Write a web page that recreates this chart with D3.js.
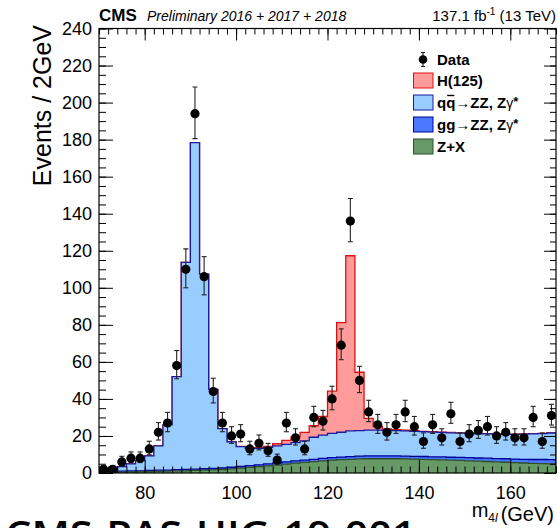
<!DOCTYPE html>
<html>
<head>
<meta charset="utf-8">
<script src="https://cdn.jsdelivr.net/npm/d3@7"></script>
<style>
  body { margin: 0; background: #fff; }
  svg { display: block; }
</style>
</head>
<body>
<svg id="chart" width="558" height="528"></svg>
<script>
// Four-lepton invariant mass, 2 GeV bins from 70 to 170 GeV (lower bin edges)
const binLow = d3.range(70, 170, 2);

// Observed events per bin
const dataCounts = [
  2, 2, 6, 8, 8, 13, 22, 27, 58, 110,
  194, 106, 44, 27, 20, 21, 13, 16, 12, 7,
  27, 19, 13, 30, 28, 40, 69, 136, 50, 33,
  26, 22, 26, 33, 25, 17, 26, 19, 32, 17,
  21, 23, 25, 20, 22, 19, 19, 30, 17, 31
];

// Expected yields per bin for each process (stacked bottom to top)
const zxYield = [
  0.3, 0.4, 0.5, 0.6, 0.7, 0.8, 0.9, 1.0, 1.1, 1.2,
  1.4, 1.5, 1.7, 1.9, 2.2, 2.6, 3.0, 3.4, 3.8, 4.3,
  4.8, 5.3, 5.7, 6.1, 6.5, 6.9, 7.2, 7.4, 7.6, 7.7,
  7.7, 7.7, 7.7, 7.6, 7.5, 7.4, 7.2, 7.1, 6.9, 6.8,
  6.6, 6.4, 6.2, 6.0, 5.8, 5.6, 5.4, 5.2, 5.1, 4.9
];
const ggZZYield = [
  0.4, 0.4, 0.5, 0.5, 0.5, 0.6, 0.6, 0.6, 0.7, 0.7,
  0.7, 0.8, 0.8, 0.8, 0.9, 0.9, 1.0, 1.0, 1.1, 1.1,
  1.2, 1.2, 1.3, 1.3, 1.4, 1.4, 1.4, 1.4, 1.5, 1.5,
  1.5, 1.5, 1.5, 1.5, 1.5, 1.5, 1.5, 1.6, 1.6, 1.6,
  1.7, 1.7, 1.8, 1.8, 1.9, 1.9, 2.0, 2.1, 2.2, 2.3
];
const qqZZYield = [
  0.6, 0.8, 2.4, 3.8, 5.5, 7.8, 13.1, 24.4, 50.2, 111.8,
  176.3, 105.1, 42.7, 21.3, 13.7, 10.7, 9.3, 8.9, 8.9, 9.2,
  9.5, 9.9, 10.3, 11.9, 12.6, 13.1, 13.4, 13.9, 13.8, 14.0,
  14.0, 13.8, 13.7, 13.6, 13.5, 13.4, 13.4, 13.2, 13.2, 13.1,
  13.1, 13.1, 13.1, 13.2, 13.2, 13.4, 13.6, 13.8, 14.0, 14.4
];
const higgsYield = [
  0, 0, 0, 0, 0, 0, 0, 0, 0, 0,
  0, 0, 0, 0, 0.1, 0.2, 0.3, 0.4, 0.6, 1.2,
  2.1, 3.0, 4.6, 6.2, 10.0, 22.8, 59.2, 94.6, 31.5, 6.3,
  1.9, 0.8, 0.5, 0.4, 0.3, 0.2, 0.2, 0.2, 0.2, 0.2,
  0.2, 0.2, 0.2, 0.1, 0.1, 0.1, 0.1, 0.1, 0.1, 0.1
];

const xTicks = [80, 100, 120, 140, 160];
const yTicks = [0, 20, 40, 60, 80, 100, 120, 140, 160, 180, 200, 220, 240];

const processes = [
  { key: "zx", label: "Z+X",  fill: "#669966", stroke: "#2f4f2f" },
  { key: "gg", label: "gg→ZZ, Zγ*", fill: "#4b78ff", stroke: "#000099" },
  { key: "qq", label: "qq̄→ZZ, Zγ*", fill: "#99ccff", stroke: "#1a1a9c" },
  { key: "h",  label: "H(125)", fill: "#ff9b9b", stroke: "#dd1111" }
];

const font = "'Liberation Sans', Arial, Helvetica, sans-serif";
const svg = d3.select("#chart");
svg.append("rect").attr("width", 558).attr("height", 528).attr("fill", "#fff");

const plot = { l: 99, r: 556, t: 28.5, b: 473 };
const x = d3.scaleLinear().domain([70, 170]).range([plot.l, plot.r]);
const y = d3.scaleLinear().domain([0, 240]).range([plot.b, plot.t]);

svg.append("defs").append("clipPath").attr("id", "frameClip")
  .append("rect").attr("x", plot.l).attr("y", plot.t)
  .attr("width", plot.r - plot.l).attr("height", plot.b - plot.t);

// ---- stacked histograms ----
const rows = binLow.map((m, i) => ({
  m, zx: zxYield[i], gg: ggZZYield[i], qq: qqZZYield[i], h: higgsYield[i]
}));
const stacked = d3.stack().keys(processes.map(p => p.key))(rows);

const hist = svg.append("g").attr("clip-path", "url(#frameClip)");
const area = d3.area().curve(d3.curveStepAfter)
  .x(d => x(d.m)).y0(y(0)).y1(d => y(d.v));
const outline = d3.line().curve(d3.curveStepAfter)
  .x(d => x(d.m)).y(d => y(d.v));

// cumulative histograms drawn from the top of the stack downwards
for (let k = processes.length - 1; k >= 0; k--) {
  const p = processes[k];
  const layer = stacked[k];
  const pts = layer.map((d, i) => ({ m: binLow[i], v: d[1] }));
  const last = pts[pts.length - 1].v;
  const filled = pts.concat([{ m: 170, v: last }]);
  hist.append("path").attr("d", area(filled)).attr("fill", p.fill);
  const edge = [{ m: 70, v: 0 }].concat(pts, [{ m: 170, v: last }, { m: 170, v: 0 }]);
  hist.append("path").attr("d", outline(edge))
    .attr("fill", "none").attr("stroke", p.stroke).attr("stroke-width", 1.3);
}

// ---- data points with Poisson intervals ----
const dataG = svg.append("g").attr("clip-path", "url(#frameClip)");
dataCounts.forEach((n, i) => {
  const cx = x(binLow[i] + 1);
  const s = Math.sqrt(n + 0.25);
  const hi = n + s + 0.5, lo = n - s + 0.5;
  const g = dataG.append("g").attr("stroke", "#222").attr("stroke-width", 1.1);
  g.append("line").attr("x1", cx).attr("x2", cx).attr("y1", y(hi)).attr("y2", y(lo));
  g.append("line").attr("x1", cx - 2.5).attr("x2", cx + 2.5).attr("y1", y(hi)).attr("y2", y(hi));
  g.append("line").attr("x1", cx - 2.5).attr("x2", cx + 2.5).attr("y1", y(lo)).attr("y2", y(lo));
  dataG.append("circle").attr("cx", cx).attr("cy", y(n)).attr("r", 4.6).attr("fill", "#000");
});

// ---- axes: ticks on all four sides, pointing inwards ----
function styleAxis(g) {
  g.select(".domain").remove();
  g.selectAll(".tick line").attr("stroke", "#000").attr("stroke-width", 1);
  g.selectAll("text").attr("font-family", font).attr("font-size", 18).attr("fill", "#000");
}
const minorX = d3.range(70, 171, 2);
const minorY = d3.range(0, 241, 5);

svg.append("g").attr("transform", `translate(0,${plot.b})`)
  .call(d3.axisBottom(x).tickValues(minorX).tickSizeInner(-6.5).tickSizeOuter(0).tickFormat(""))
  .call(styleAxis);
svg.append("g").attr("transform", `translate(0,${plot.b})`)
  .call(d3.axisBottom(x).tickValues(xTicks).tickSizeInner(-13).tickSizeOuter(0).tickPadding(13))
  .call(styleAxis);
svg.append("g").attr("transform", `translate(0,${plot.t})`)
  .call(d3.axisTop(x).tickValues(minorX).tickSizeInner(-6).tickSizeOuter(0).tickFormat(""))
  .call(styleAxis);
svg.append("g").attr("transform", `translate(0,${plot.t})`)
  .call(d3.axisTop(x).tickValues(xTicks).tickSizeInner(-12).tickSizeOuter(0).tickFormat(""))
  .call(styleAxis);
svg.append("g").attr("transform", `translate(${plot.l},0)`)
  .call(d3.axisLeft(y).tickValues(minorY).tickSizeInner(-7).tickSizeOuter(0).tickFormat(""))
  .call(styleAxis);
svg.append("g").attr("transform", `translate(${plot.l},0)`)
  .call(d3.axisLeft(y).tickValues(yTicks).tickSizeInner(-14).tickSizeOuter(0).tickPadding(7))
  .call(styleAxis);
svg.append("g").attr("transform", `translate(${plot.r},0)`)
  .call(d3.axisRight(y).tickValues(minorY).tickSizeInner(-6).tickSizeOuter(0).tickFormat(""))
  .call(styleAxis);
svg.append("g").attr("transform", `translate(${plot.r},0)`)
  .call(d3.axisRight(y).tickValues(yTicks).tickSizeInner(-12).tickSizeOuter(0).tickFormat(""))
  .call(styleAxis);

svg.append("rect").attr("x", plot.l).attr("y", plot.t)
  .attr("width", plot.r - plot.l).attr("height", plot.b - plot.t)
  .attr("fill", "none").attr("stroke", "#000").attr("stroke-width", 1.2);

// ---- header ----
svg.append("text").attr("x", 99).attr("y", 21).attr("font-family", font)
  .attr("font-weight", "bold").attr("font-size", 17).text("CMS");
svg.append("text").attr("x", 147).attr("y", 21).attr("font-family", font)
  .attr("font-style", "italic").attr("font-size", 14).text("Preliminary 2016 + 2017 + 2018");
const lumi = svg.append("text").attr("x", 556).attr("y", 21).attr("font-family", font)
  .attr("font-size", 15).attr("text-anchor", "end");
lumi.append("tspan").text("137.1 fb");
lumi.append("tspan").attr("font-size", 10).attr("dy", -6).text("-1");
lumi.append("tspan").attr("dy", 6).text(" (13 TeV)");

// ---- axis titles ----
svg.append("text").attr("transform", "translate(51,25) rotate(-90)")
  .attr("text-anchor", "end").attr("font-family", font).attr("font-size", 25)
  .text("Events / 2GeV");
const xt = svg.append("text").attr("x", 554).attr("y", 521).attr("text-anchor", "end")
  .attr("font-family", font).attr("font-size", 20);
xt.append("tspan").attr("dy", -4).text("m");
xt.append("tspan").attr("font-size", 12).attr("dy", 5).text("4");
xt.append("tspan").attr("font-size", 12).attr("font-style", "italic").text("l");
xt.append("tspan").attr("dy", -1).attr("dx", 3).text("(GeV)");

svg.append("text").attr("x", 5).attr("y", 548)
  .attr("font-family", "'Open Sans', 'DejaVu Sans', sans-serif").attr("font-weight", 600)
  .attr("font-size", 38).attr("textLength", 411).attr("lengthAdjust", "spacingAndGlyphs")
  .text("CMS-PAS-HIG-19-001");

// ---- legend ----
const legend = svg.append("g");
const rowY = [59.5, 80.5, 102.5, 124.5, 146.5];
// data marker entry
legend.append("line").attr("x1", 423).attr("x2", 423).attr("y1", rowY[0] - 7).attr("y2", rowY[0] + 7)
  .attr("stroke", "#222").attr("stroke-width", 1.1);
[rowY[0] - 7, rowY[0] + 7].forEach(v => legend.append("line")
  .attr("x1", 421).attr("x2", 425).attr("y1", v).attr("y2", v)
  .attr("stroke", "#222").attr("stroke-width", 1.1));
legend.append("circle").attr("cx", 423).attr("cy", rowY[0]).attr("r", 4.3).attr("fill", "#000");
legend.append("text").attr("x", 437).attr("y", rowY[0]).attr("dy", "0.36em")
  .attr("font-family", font).attr("font-weight", "bold").attr("font-size", 15).text("Data");

const legendOrder = ["h", "qq", "gg", "zx"];
legendOrder.forEach((key, j) => {
  const p = processes.find(q => q.key === key);
  const cy = rowY[j + 1];
  legend.append("rect").attr("x", 413.5).attr("y", cy - 7.5).attr("width", 19.5).attr("height", 15)
    .attr("fill", p.fill).attr("stroke", p.stroke).attr("stroke-width", 1);
  const t = legend.append("text").attr("x", 437).attr("y", cy).attr("dy", "0.36em")
    .attr("font-family", font).attr("font-weight", "bold").attr("font-size", 15);
  if (key === "qq" || key === "gg") {
    const lead = key === "qq" ? "qq" : "gg";
    t.append("tspan").text(lead + "→ZZ, Z");
    t.append("tspan").attr("font-weight", "normal").attr("font-size", 14).text("γ");
    t.append("tspan").attr("font-size", 13).attr("dy", -2).text("*");
    if (key === "qq") {
      // bar over the antiquark
      const node = t.node();
      const s = node.getStartPositionOfChar(1);
      const e = node.getEndPositionOfChar(1);
      legend.append("line").attr("x1", s.x + 1).attr("x2", e.x - 1)
        .attr("y1", cy - 7).attr("y2", cy - 7).attr("stroke", "#000").attr("stroke-width", 1.4);
    }
  } else {
    t.text(p.label);
  }
});
</script>
</body>
</html>
